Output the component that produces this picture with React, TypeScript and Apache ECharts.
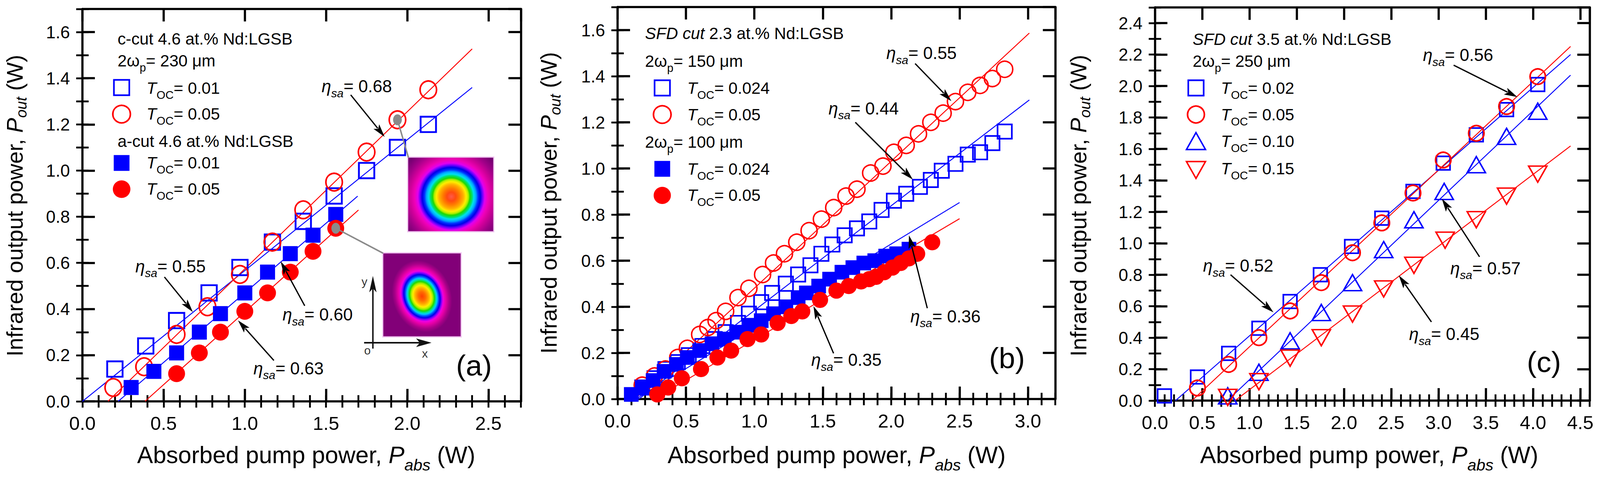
import React, { useEffect, useRef } from 'react';
import * as echarts from 'echarts';

const FONT = '"Liberation Sans", Arial, Helvetica, sans-serif';
const BLUE = '#0000ff';
const RED = '#ff0000';
const REF_W = 4368;
const REF_H = 1241;

// ---------------- Panel (a) data ----------------
const aCcut001X = [0.20, 0.39, 0.58, 0.78, 0.97, 1.17, 1.36, 1.55, 1.75, 1.94, 2.13];
const aCcut001Y = [0.14, 0.24, 0.35, 0.47, 0.58, 0.69, 0.78, 0.89, 1.00, 1.10, 1.20];
const aCcut005X = [0.19, 0.38, 0.58, 0.77, 0.97, 1.17, 1.36, 1.55, 1.75, 1.94, 2.13];
const aCcut005Y = [0.06, 0.15, 0.29, 0.41, 0.55, 0.69, 0.83, 0.95, 1.08, 1.22, 1.35];
const aAcut001X = [0.30, 0.44, 0.58, 0.72, 0.85, 1.00, 1.14, 1.28, 1.42, 1.56];
const aAcut001Y = [0.06, 0.13, 0.21, 0.30, 0.38, 0.47, 0.56, 0.64, 0.72, 0.81];
const aAcut005X = [0.58, 0.72, 0.85, 1.00, 1.14, 1.28, 1.42, 1.56];
const aAcut005Y = [0.12, 0.21, 0.30, 0.39, 0.47, 0.56, 0.65, 0.75];
const aFitC001 = [[0.0, 0.0], [2.40, 1.36]];
const aFitC005 = [[0.157, 0.0], [2.40, 1.527]];
const aFitA001 = [[0.22, 0.0], [1.695, 0.889]];
const aFitA005 = [[0.385, 0.0], [1.70, 0.829]];
const aHighlight = [[1.94, 1.22], [1.56, 0.75]];

// ---------------- Panel (b) data ----------------
const bOpenCircX = [0.18, 0.27, 0.35, 0.44, 0.51, 0.60, 0.66, 0.72, 0.79, 0.88, 0.96, 1.06, 1.14, 1.22, 1.31, 1.40, 1.49, 1.58, 1.67, 1.75, 1.85, 1.94, 2.02, 2.11, 2.20, 2.29, 2.38, 2.47, 2.56, 2.65, 2.74, 2.83];
const bOpenCircY = [0.06, 0.10, 0.13, 0.18, 0.22, 0.28, 0.31, 0.34, 0.38, 0.44, 0.48, 0.54, 0.59, 0.63, 0.68, 0.73, 0.78, 0.83, 0.88, 0.91, 0.98, 1.01, 1.07, 1.10, 1.15, 1.20, 1.24, 1.29, 1.33, 1.36, 1.39, 1.43];
const bOpenSqX = [0.18, 0.27, 0.35, 0.44, 0.52, 0.62, 0.71, 0.79, 0.88, 0.96, 1.05, 1.13, 1.23, 1.32, 1.41, 1.49, 1.57, 1.66, 1.75, 1.84, 1.93, 2.02, 2.11, 2.21, 2.29, 2.37, 2.47, 2.56, 2.65, 2.74, 2.83];
const bOpenSqY = [0.05, 0.09, 0.13, 0.16, 0.19, 0.23, 0.26, 0.29, 0.33, 0.37, 0.42, 0.46, 0.50, 0.54, 0.58, 0.63, 0.67, 0.71, 0.74, 0.77, 0.82, 0.86, 0.89, 0.92, 0.95, 0.99, 1.02, 1.06, 1.07, 1.11, 1.16];
const bFillSqX = [0.10, 0.18, 0.26, 0.34, 0.43, 0.51, 0.60, 0.69, 0.78, 0.87, 0.96, 1.05, 1.14, 1.23, 1.32, 1.38, 1.47, 1.55, 1.64, 1.72, 1.80, 1.88, 1.96, 2.04, 2.13];
const bFillSqY = [0.02, 0.05, 0.08, 0.12, 0.15, 0.18, 0.21, 0.24, 0.26, 0.29, 0.32, 0.34, 0.37, 0.40, 0.44, 0.46, 0.49, 0.52, 0.55, 0.57, 0.59, 0.60, 0.62, 0.63, 0.65];
const bFillCircX = [0.29, 0.37, 0.47, 0.61, 0.73, 0.83, 0.95, 1.05, 1.17, 1.27, 1.35, 1.48, 1.60, 1.69, 1.78, 1.84, 1.89, 1.95, 2.01, 2.07, 2.13, 2.19, 2.30];
const bFillCircY = [0.02, 0.05, 0.09, 0.13, 0.18, 0.21, 0.26, 0.28, 0.33, 0.36, 0.38, 0.43, 0.47, 0.49, 0.51, 0.52, 0.53, 0.55, 0.57, 0.59, 0.61, 0.63, 0.68];
const bFitOpenCirc = [[0.127, 0.0], [3.01, 1.587]];
const bFitOpenSq = [[0.155, 0.0], [3.01, 1.297]];
const bFitFillSq = [[0.133, 0.0], [2.50, 0.852]];
const bFitFillCirc = [[0.266, 0.0], [2.50, 0.782]];

// ---------------- Panel (c) data ----------------
const cSqX = [0.10, 0.45, 0.78, 1.10, 1.43, 1.75, 2.08, 2.40, 2.73, 3.05, 3.40, 3.72, 4.05];
const cSqY = [0.03, 0.15, 0.30, 0.46, 0.63, 0.80, 0.98, 1.16, 1.33, 1.51, 1.69, 1.85, 2.01];
const cCircX = [0.45, 0.78, 1.10, 1.43, 1.76, 2.09, 2.40, 2.73, 3.05, 3.40, 3.72, 4.05];
const cCircY = [0.08, 0.23, 0.40, 0.57, 0.75, 0.94, 1.13, 1.32, 1.53, 1.70, 1.87, 2.06];
const cTriX = [0.77, 1.10, 1.43, 1.76, 2.09, 2.42, 2.74, 3.06, 3.40, 3.72, 4.05];
const cTriY = [0.03, 0.18, 0.38, 0.56, 0.75, 0.96, 1.15, 1.33, 1.50, 1.68, 1.84];
const cInvX = [0.77, 1.10, 1.43, 1.76, 2.09, 2.42, 2.74, 3.07, 3.40, 3.72, 4.05];
const cInvY = [0.02, 0.12, 0.27, 0.40, 0.55, 0.71, 0.86, 1.02, 1.15, 1.30, 1.44];
const cFitSq = [[0.218, 0.0], [4.397, 2.20]];
const cFitCirc = [[0.392, 0.0], [4.397, 2.252]];
const cFitTri = [[0.767, 0.0], [4.397, 2.069]];
const cFitInv = [[0.848, 0.0], [4.397, 1.619]];

// axis ranges
const xMax = [2.7, 3.2, 4.6];
const yMax = [1.7, 1.7, 2.5];

// slope-efficiency annotations (data coordinates): value, text anchor, arrow start, arrow tip
const annotations = [
  { g: 0, v: '0.68', tx: 1.473, ty: 1.365, x1: 1.652, y1: 1.328, x2: 1.861, y2: 1.146 },
  { g: 0, v: '0.55', tx: 0.326, ty: 0.585, x1: 0.505, y1: 0.539, x2: 0.680, y2: 0.387 },
  { g: 0, v: '0.60', tx: 1.232, ty: 0.376, x1: 1.369, y1: 0.414, x2: 1.221, y2: 0.606 },
  { g: 0, v: '0.63', tx: 1.053, ty: 0.143, x1: 1.179, y1: 0.177, x2: 0.958, y2: 0.351 },
  { g: 1, v: '0.55', tx: 1.965, ty: 1.500, x1: 2.175, y1: 1.455, x2: 2.440, y2: 1.292 },
  { g: 1, v: '0.44', tx: 1.542, ty: 1.260, x1: 1.738, y1: 1.200, x2: 2.158, y2: 0.952 },
  { g: 1, v: '0.36', tx: 2.140, ty: 0.359, x1: 2.264, y1: 0.394, x2: 2.130, y2: 0.710 },
  { g: 1, v: '0.35', tx: 1.416, ty: 0.170, x1: 1.579, y1: 0.198, x2: 1.432, y2: 0.403 },
  { g: 2, v: '0.56', tx: 2.835, ty: 2.197, x1: 3.160, y1: 2.133, x2: 3.834, y2: 1.930 },
  { g: 2, v: '0.57', tx: 3.125, ty: 0.842, x1: 3.434, y1: 0.914, x2: 3.035, y2: 1.284 },
  { g: 2, v: '0.52', tx: 0.509, ty: 0.858, x1: 0.800, y1: 0.800, x2: 1.254, y2: 0.561 },
  { g: 2, v: '0.45', tx: 2.689, ty: 0.423, x1: 2.925, y1: 0.500, x2: 2.580, y2: 0.796 },
];

const pair = (xs: number[], ys: number[]) => xs.map((x, i) => [x, ys[i]]);

// layout, in reference-frame pixels (scaled to the actual viewport at run time)
const GRIDS = [
  { left: 225, top: 23, width: 1197, height: 1004 },
  { left: 1686, top: 18, width: 1195, height: 1003 },
  { left: 3153, top: 19, width: 1187, height: 1006 },
];

const fmt = (v: number) => v.toFixed(1);

const TOP_BEAM_STOPS = [
  [0, '#ff5a4a'], [0.08, '#ff4a10'], [0.15, '#ff7a00'], [0.22, '#ffb000'], [0.27, '#ffee00'],
  [0.31, '#b0f000'], [0.34, '#20d800'], [0.38, '#00e070'], [0.41, '#00e0f0'], [0.45, '#00a8ff'],
  [0.49, '#0030ff'], [0.53, '#0000e8'], [0.57, '#7000ff'], [0.61, '#e000f0'], [0.67, '#f000b8'],
  [0.75, '#d0009a'], [0.86, '#a00088'], [1, '#720070'],
];
const LOW_BEAM_STOPS = [
  [0, '#ff4000'], [0.12, '#ff6a00'], [0.22, '#ffaa00'], [0.3, '#ffee00'], [0.36, '#a0f000'],
  [0.41, '#20d800'], [0.46, '#00e0a0'], [0.5, '#00c8ff'], [0.55, '#0050ff'], [0.6, '#0000e8'],
  [0.65, '#8000ff'], [0.7, '#f000e0'], [0.78, '#e800a8'], [0.9, '#a80088'], [1, '#820078'],
];
const stops = (a: any[]) => a.map(([offset, color]) => ({ offset, color }));

export default function App() {
  const ref = useRef<HTMLDivElement>(null);
  useEffect(() => {
    document.body.style.margin = '0';
    document.body.style.overflow = 'hidden';
    const el = ref.current as HTMLDivElement;
    const W = el.clientWidth || REF_W;
    const H = el.clientHeight || REF_H;
    const kx = W / REF_W, ky = H / REF_H, k = Math.min(kx, ky);
    const X = (v: number) => v * kx;
    const Y = (v: number) => v * ky;
    const S = (v: number) => v * k;

    const chart = echarts.init(el, null, { renderer: 'svg' });

    const axesFor = (g: number, kind: 'x' | 'y') => {
      const max = kind === 'x' ? xMax[g] : yMax[g];
      const major = kind === 'x' ? 0.5 : 0.2;
      const pos1 = kind === 'x' ? 'bottom' : 'left';
      const pos2 = kind === 'x' ? 'top' : 'right';
      const base = {
        type: 'value', gridIndex: g, min: 0, max,
        splitLine: { show: false },
        axisLine: { show: true, onZero: false, lineStyle: { color: '#000', width: S(6) } },
      };
      const majTick = { show: true, inside: true, length: S(34), lineStyle: { color: '#000', width: S(6) } };
      const minTick = { show: true, inside: true, length: S(17), lineStyle: { color: '#000', width: S(5) } };
      const label = {
        show: true, margin: S(34), fontSize: S(kind === 'x' ? 52 : 47),
        fontFamily: FONT, color: '#000', showMaxLabel: false, formatter: fmt,
      };
      return [
        { ...base, position: pos1, interval: major, axisTick: majTick, axisLabel: label },
        { ...base, position: pos1, interval: 0.1, axisLine: { show: false }, axisTick: minTick, axisLabel: { show: false } },
        { ...base, position: pos2, interval: major, axisTick: majTick, axisLabel: { show: false } },
        { ...base, position: pos2, interval: 0.1, axisLine: { show: false }, axisTick: minTick, axisLabel: { show: false } },
      ];
    };
    const sz = (v: any) => (Array.isArray(v) ? v.map(S) : S(v));
    const scatter = (g: number, data: any[], symbol: string, size: any, color: string, filled: boolean, bw = 4.5, extra: any = {}) => ({
      type: 'scatter', xAxisIndex: 4 * g, yAxisIndex: 4 * g, data, symbol, symbolSize: sz(size),
      itemStyle: filled ? { color, opacity: 1 } : { color: 'rgba(0,0,0,0)', borderColor: color, borderWidth: S(bw), opacity: 1 },
      emphasis: { disabled: true }, z: 3, ...extra,
    });
    const fit = (g: number, data: any[], color: string) => ({
      type: 'line', xAxisIndex: 4 * g, yAxisIndex: 4 * g, data, symbol: 'none', showSymbol: false,
      lineStyle: { color, width: S(2.5) }, emphasis: { disabled: true }, z: 2,
    });
    const richT = (fs: number, sub: number, pad: number) => {
      const f = S(fs), s = S(sub), p = S(pad);
      return {
        n: { fontSize: f, fontFamily: FONT, lineHeight: f, verticalAlign: 'top', fill: '#000' },
        i: { fontSize: f, fontFamily: FONT, fontStyle: 'italic', lineHeight: f, verticalAlign: 'top', fill: '#000' },
        s: { fontSize: s, fontFamily: FONT, fontStyle: 'italic', lineHeight: s + p, padding: [p, 0, 0, 0], verticalAlign: 'top', fill: '#000' },
        r: { fontSize: s, fontFamily: FONT, lineHeight: s + p, padding: [p, 0, 0, 0], verticalAlign: 'top', fill: '#000' },
      };
    };
    // text with main-line vertical centre at yc (x, yc already in screen pixels)
    const txtPx = (x: number, yc: number, text: string, fs: number, sub: number, pad: number) => ({
      type: 'text', x, y: yc - S(fs) / 2, z: 60,
      style: { text, rich: richT(fs, sub, pad), fill: '#000', fontSize: S(fs), fontFamily: FONT, align: 'left', verticalAlign: 'top' },
    });
    const txt = (x: number, yc: number, text: string, fs: number, sub: number, pad: number) => txtPx(X(x), Y(yc), text, fs, sub, pad);
    const legSym = (kind: string, cxr: number, cyr: number, color: string, sr: number) => {
      const cx = X(cxr), cy = Y(cyr), s = S(sr), h = s / 2;
      if (kind === 'osq') return { type: 'rect', z: 60, shape: { x: cx - h, y: cy - h, width: s, height: s }, style: { fill: 'none', stroke: color, lineWidth: S(4.5) } };
      if (kind === 'fsq') return { type: 'rect', z: 60, shape: { x: cx - h, y: cy - h, width: s, height: s }, style: { fill: color } };
      if (kind === 'ocirc') return { type: 'circle', z: 60, shape: { cx, cy, r: h }, style: { fill: 'none', stroke: color, lineWidth: S(4.5) } };
      if (kind === 'fcirc') return { type: 'circle', z: 60, shape: { cx, cy, r: h }, style: { fill: color } };
      if (kind === 'otri') return { type: 'polygon', z: 60, shape: { points: [[cx, cy - S(23)], [cx + S(26), cy + S(23)], [cx - S(26), cy + S(23)]] }, style: { fill: 'none', stroke: color, lineWidth: S(4) } };
      return { type: 'polygon', z: 60, shape: { points: [[cx, cy + S(24)], [cx + S(26), cy - S(22)], [cx - S(26), cy - S(22)]] }, style: { fill: 'none', stroke: color, lineWidth: S(4) } };
    };
    const arrow = (p1: number[], p2: number[]) => {
      const dx = p2[0] - p1[0], dy = p2[1] - p1[1];
      const Ln = Math.hypot(dx, dy);
      const ux = dx / Ln, uy = dy / Ln;
      const hl = S(36), hw = S(10);
      const bx = p2[0] - ux * hl, by = p2[1] - uy * hl;
      return [
        { type: 'line', z: 70, shape: { x1: p1[0], y1: p1[1], x2: bx + ux * S(6), y2: by + uy * S(6) }, style: { stroke: '#000', lineWidth: S(3.5) } },
        { type: 'polygon', z: 70, shape: { points: [[p2[0], p2[1]], [bx - uy * hw, by + ux * hw], [bx + ux * S(8), by + uy * S(8)], [bx + uy * hw, by - ux * hw]] }, style: { fill: '#000' } },
      ];
    };

    const xAxis: any[] = [], yAxis: any[] = [];
    for (let g = 0; g < 3; g++) { xAxis.push(...axesFor(g, 'x')); yAxis.push(...axesFor(g, 'y')); }
    const series: any[] = [
      // (a)
      fit(0, aFitC001, BLUE), fit(0, aFitC005, RED), fit(0, aFitA001, BLUE), fit(0, aFitA005, RED),
      scatter(0, pair(aCcut001X, aCcut001Y), 'rect', 42, BLUE, false, 5),
      scatter(0, pair(aCcut005X, aCcut005Y), 'circle', [45, 48], RED, false, 4.5),
      scatter(0, pair(aAcut001X, aAcut001Y), 'rect', 41, BLUE, true),
      scatter(0, pair(aAcut005X, aAcut005Y), 'circle', 46, RED, true),
      scatter(0, aHighlight, 'circle', [24, 30], '#8a8a8a', true, 0, { z: 4 }),
      // (b)
      fit(1, bFitOpenCirc, RED), fit(1, bFitOpenSq, BLUE), fit(1, bFitFillSq, BLUE), fit(1, bFitFillCirc, RED),
      scatter(1, pair(bOpenSqX, bOpenSqY), 'rect', 39, BLUE, false),
      scatter(1, pair(bOpenCircX, bOpenCircY), 'circle', 44, RED, false, 4),
      scatter(1, pair(bFillSqX, bFillSqY), 'rect', 40, BLUE, true),
      scatter(1, pair(bFillCircX, bFillCircY), 'circle', 44, RED, true),
      // (c)
      fit(2, cFitSq, BLUE), fit(2, cFitCirc, RED), fit(2, cFitTri, BLUE), fit(2, cFitInv, RED),
      scatter(2, pair(cSqX, cSqY), 'rect', 37, BLUE, false),
      scatter(2, pair(cCircX, cCircY), 'circle', 42, RED, false),
      scatter(2, pair(cTriX, cTriY), 'triangle', [50, 44], BLUE, false, 4),
      scatter(2, pair(cInvX, cInvY), 'triangle', [50, 44], RED, false, 4, { symbolRotate: 180 }),
    ];
    chart.setOption({
      animation: false,
      backgroundColor: '#ffffff',
      grid: GRIDS.map((gr) => ({ left: X(gr.left), top: Y(gr.top), width: X(gr.width), height: Y(gr.height) })),
      xAxis, yAxis, series,
    });

    const P = (g: number, x: number, y: number) => chart.convertToPixel({ xAxisIndex: 4 * g, yAxisIndex: 4 * g }, [x, y]) as number[];
    const G: any[] = [];

    // axis titles
    const yTitleX = [10, 1468, 2914];
    const yTitleY = [526, 519, 526];
    const xTitleX = [836, 2284, 3738];
    for (let g = 0; g < 3; g++) {
      G.push({
        type: 'text', x: X(yTitleX[g]), y: Y(yTitleY[g]), rotation: Math.PI / 2, z: 60,
        style: { text: '{n|Infrared output power, }{i|P}{s|out}{n| (W)}', rich: richT(61, 41, 28), fill: '#000', fontSize: S(61), fontFamily: FONT, align: 'center', verticalAlign: 'top' },
      });
      G.push({
        type: 'text', x: X(xTitleX[g]), y: Y(1164) - S(65) / 2, z: 60,
        style: { text: '{n|Absorbed pump power, }{i|P}{s|abs}{n| (W)}', rich: richT(65, 44, 38), fill: '#000', fontSize: S(65), fontFamily: FONT, align: 'center', verticalAlign: 'top' },
      });
    }
    // panel labels
    const plabels: any[] = [['(a)', 1294, 935], ['(b)', 2749, 916], ['(c)', 4215, 926]];
    plabels.forEach(([t, x, y]) => G.push({ type: 'text', x: X(x), y: Y(y), z: 60, style: { text: t, fill: '#000', fontSize: S(80), fontFamily: FONT, align: 'center', verticalAlign: 'middle' } }));

    // legends
    const LF = 45, LS = 31, LP = 25;
    // (a)
    G.push(txt(321, 100, '{n|c-cut 4.6 at.% Nd:LGSB}', LF, LS, LP));
    G.push(txt(321, 156, '{n|2ω}{r|p}{n|= 230 μm}', LF, LS, LP));
    G.push(legSym('osq', 332, 224, BLUE, 42)); G.push(txt(400, 226, '{i|T}{r|OC}{n|= 0.01}', LF, LS, LP));
    G.push(legSym('ocirc', 332, 292, RED, 48)); G.push(txt(400, 292, '{i|T}{r|OC}{n|= 0.05}', LF, LS, LP));
    G.push(txt(321, 362, '{n|a-cut 4.6 at.% Nd:LGSB}', LF, LS, LP));
    G.push(legSym('fsq', 332, 417, BLUE, 43)); G.push(txt(400, 417, '{i|T}{r|OC}{n|= 0.01}', LF, LS, LP));
    G.push(legSym('fcirc', 332, 484, RED, 48)); G.push(txt(400, 484, '{i|T}{r|OC}{n|= 0.05}', LF, LS, LP));
    // (b)
    G.push(txt(1761, 86, '{i|SFD cut}{n| 2.3 at.% Nd:LGSB}', LF, LS, LP));
    G.push(txt(1761, 157, '{n|2ω}{r|p}{n|= 150 μm}', LF, LS, LP));
    G.push(legSym('osq', 1808, 225, BLUE, 42)); G.push(txt(1876, 226, '{i|T}{r|OC}{n|= 0.024}', LF, LS, LP));
    G.push(legSym('ocirc', 1808, 293, RED, 48)); G.push(txt(1876, 294, '{i|T}{r|OC}{n|= 0.05}', LF, LS, LP));
    G.push(txt(1761, 364, '{n|2ω}{r|p}{n|= 100 μm}', LF, LS, LP));
    G.push(legSym('fsq', 1808, 432, BLUE, 43)); G.push(txt(1876, 433, '{i|T}{r|OC}{n|= 0.024}', LF, LS, LP));
    G.push(legSym('fcirc', 1808, 500, RED, 47)); G.push(txt(1876, 500, '{i|T}{r|OC}{n|= 0.05}', LF, LS, LP));
    // (c)
    G.push(txt(3256, 101, '{i|SFD cut}{n| 3.5 at.% Nd:LGSB}', LF, LS, LP));
    G.push(txt(3256, 157, '{n|2ω}{r|p}{n|= 250 μm}', LF, LS, LP));
    G.push(legSym('osq', 3265, 225, BLUE, 42)); G.push(txt(3333, 226, '{i|T}{r|OC}{n|= 0.02}', LF, LS, LP));
    G.push(legSym('ocirc', 3265, 293, RED, 46)); G.push(txt(3333, 294, '{i|T}{r|OC}{n|= 0.05}', LF, LS, LP));
    G.push(legSym('otri', 3265, 361, BLUE, 46)); G.push(txt(3333, 362, '{i|T}{r|OC}{n|= 0.10}', LF, LS, LP));
    G.push(legSym('oinv', 3265, 434, RED, 46)); G.push(txt(3333, 432, '{i|T}{r|OC}{n|= 0.15}', LF, LS, LP));

    // annotations
    annotations.forEach((a) => {
      const t = P(a.g, a.tx, a.ty);
      G.push(txtPx(t[0], t[1], `{i|η}{s|sa}{n|= ${a.v}}`, 47, 32, 26));
      G.push(...arrow(P(a.g, a.x1, a.y1), P(a.g, a.x2, a.y2)));
    });

    // beam-profile insets (panel a)
    G.push({
      type: 'rect', z: 40, shape: { x: X(1113), y: Y(402), width: X(235), height: Y(191) },
      style: { fill: { type: 'radial', x: X(1232), y: Y(503), r: S(150), colorStops: stops(TOP_BEAM_STOPS), global: true }, stroke: '#f0c4f0', lineWidth: S(3) },
    });
    G.push({ type: 'rect', z: 40, shape: { x: X(1045), y: Y(647), width: X(214), height: Y(215) }, style: { fill: '#820078', stroke: '#f0c4f0', lineWidth: S(3) } });
    G.push({
      type: 'ellipse', z: 41, x: X(1152), y: Y(758), rotation: 0.33, shape: { cx: 0, cy: 0, rx: S(80), ry: S(100) },
      style: { fill: { type: 'radial', x: 0.5, y: 0.5, r: 0.5, colorStops: stops(LOW_BEAM_STOPS) } },
    });
    const h1 = P(0, aHighlight[0][0], aHighlight[0][1]);
    const h2 = P(0, aHighlight[1][0], aHighlight[1][1]);
    G.push({ type: 'line', z: 45, shape: { x1: h1[0], y1: h1[1], x2: X(1115), y2: Y(403) }, style: { stroke: '#8a8a8a', lineWidth: S(4) } });
    G.push({ type: 'line', z: 45, shape: { x1: h2[0], y1: h2[1], x2: X(1046), y2: Y(648) }, style: { stroke: '#8a8a8a', lineWidth: S(4) } });
    // inset axes
    const pts = (a: number[][]) => a.map(([x, y]) => [X(x), Y(y)]);
    G.push({ type: 'line', z: 45, shape: { x1: X(1018), y1: Y(892), x2: X(1018), y2: Y(730) }, style: { stroke: '#111', lineWidth: S(4) } });
    G.push({ type: 'polygon', z: 45, shape: { points: pts([[1018, 706], [1008, 748], [1018, 738], [1028, 748]]) }, style: { fill: '#111' } });
    G.push({ type: 'line', z: 45, shape: { x1: X(994), y1: Y(877), x2: X(1155), y2: Y(877) }, style: { stroke: '#111', lineWidth: S(4) } });
    G.push({ type: 'polygon', z: 45, shape: { points: pts([[1178, 877], [1136, 866], [1146, 877], [1136, 888]]) }, style: { fill: '#111' } });
    const small: any[] = [['y', 995, 720], ['o', 1003, 896], ['x', 1160, 904]];
    small.forEach(([t, x, y]) => G.push({ type: 'text', x: X(x), y: Y(y), z: 45, style: { text: t, fill: '#333', fontSize: S(32), fontFamily: FONT, align: 'center', verticalAlign: 'middle' } }));

    chart.setOption({ graphic: G });
    return () => chart.dispose();
  }, []);
  return <div ref={ref} style={{ position: 'fixed', left: 0, top: 0, width: '100%', height: '100%', background: '#fff' }} />;
}
